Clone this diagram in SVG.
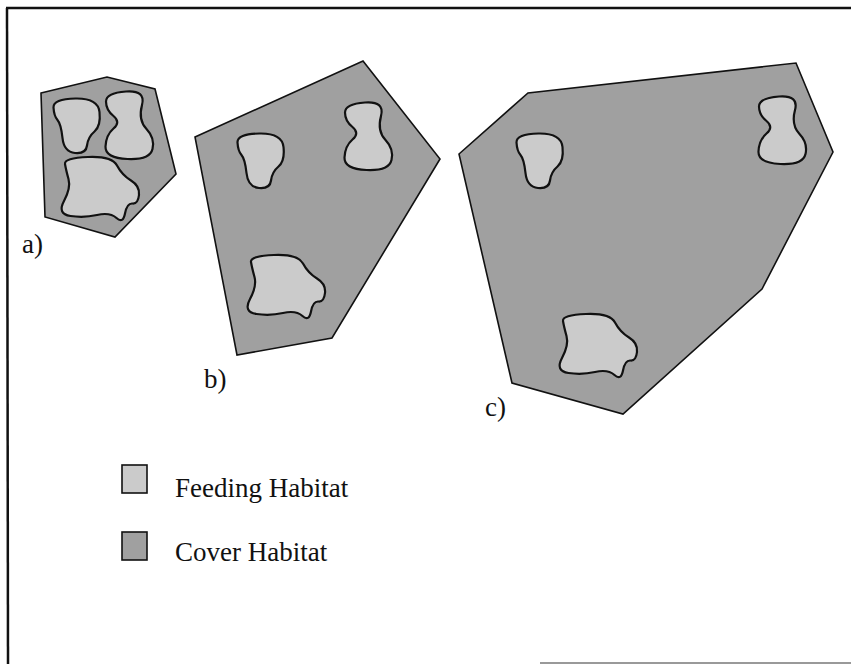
<svg xmlns="http://www.w3.org/2000/svg" xmlns:xlink="http://www.w3.org/1999/xlink" width="851" height="664" viewBox="0 0 851 664">
<style>
.cover{fill:#a0a0a0;stroke:#111;stroke-width:1.6;stroke-linejoin:miter}
.feed{fill:#cbcbcb;stroke:#111;stroke-width:2.2}
.lbl{font-family:"Liberation Serif","Times New Roman",serif;font-size:27px;fill:#111}
.frame{stroke:#111;stroke-width:2.5;fill:none}
</style>
<defs>
<path id="blob1" d="M 75.5 98.5 Q 98 98 99.5 112 Q 101 126 94.5 131.5 Q 88 137 87 145.5 Q 86 154 75 153 Q 64 152 62.5 138 Q 61 124 57.5 120 Q 54 116 53.5 107.5 Q 53 99 75.5 98.5 Z"/>
<path id="blob2" d="M 126 91.5 Q 146 90 142 105 Q 138 120 146.5 129 Q 155 138 152.5 149 Q 150 160 127.5 159 Q 105 158 105.5 146.5 Q 106 135 113.5 128.5 Q 121 122 113.5 116 Q 106 110 106 101.5 Q 106 93 126 91.5 Z"/>
<path id="blob3" d="M 88 157 Q 112 156 117 165.5 Q 122 175 131 180.5 Q 140 186 139 195 Q 138 204 132.5 203.5 Q 127 203 125 213.5 Q 123 224 116.5 218 Q 110 212 97 215 Q 84 218 70.5 216 Q 57 214 64 201 Q 71 188 68.5 179 Q 66 170 65 164 Q 64 158 88 157 Z"/>
</defs>
<rect width="851" height="664" fill="#fff"/>
<g id="frame">
<line class="frame" x1="6" y1="8" x2="851" y2="8"/>
<line class="frame" x1="7" y1="8" x2="8" y2="664"/>
<line x1="540" y1="663" x2="851" y2="663" stroke="#999" stroke-width="2"/>
</g>
<g id="panel-a">
<polygon class="cover" points="41,93 107,77 155,89 176,174 115,237 45,217"/>
<use href="#blob1" xlink:href="#blob1" class="feed"/>
<use href="#blob2" xlink:href="#blob2" class="feed"/>
<use href="#blob3" xlink:href="#blob3" class="feed"/>
<text class="lbl" x="22" y="253">a)</text>
</g>
<g id="panel-b">
<polygon class="cover" points="195,137 363,61 440,159 332,338 237,355"/>
<use href="#blob1" xlink:href="#blob1" class="feed" transform="translate(184,35)"/>
<use href="#blob2" xlink:href="#blob2" class="feed" transform="translate(239,11)"/>
<use href="#blob3" xlink:href="#blob3" class="feed" transform="translate(186,98)"/>
<text class="lbl" x="204" y="388">b)</text>
</g>
<g id="panel-c">
<polygon class="cover" points="459,154 528,93 796,63 833,152 762,289 623,414 512,383"/>
<use href="#blob1" xlink:href="#blob1" class="feed" transform="translate(463,35)"/>
<use href="#blob2" xlink:href="#blob2" class="feed" transform="translate(653,5)"/>
<use href="#blob3" xlink:href="#blob3" class="feed" transform="translate(498,157)"/>
<text class="lbl" x="485" y="416">c)</text>
</g>
<g id="legend">
<g id="legend-feeding">
<rect x="122" y="465" width="25" height="28" fill="#cbcbcb" stroke="#111" stroke-width="1.6"/>
<text class="lbl" x="175" y="497">Feeding Habitat</text>
</g>
<g id="legend-cover">
<rect x="122" y="532" width="25" height="28" fill="#a0a0a0" stroke="#111" stroke-width="1.6"/>
<text class="lbl" x="175" y="561">Cover Habitat</text>
</g>
</g>
</svg>
